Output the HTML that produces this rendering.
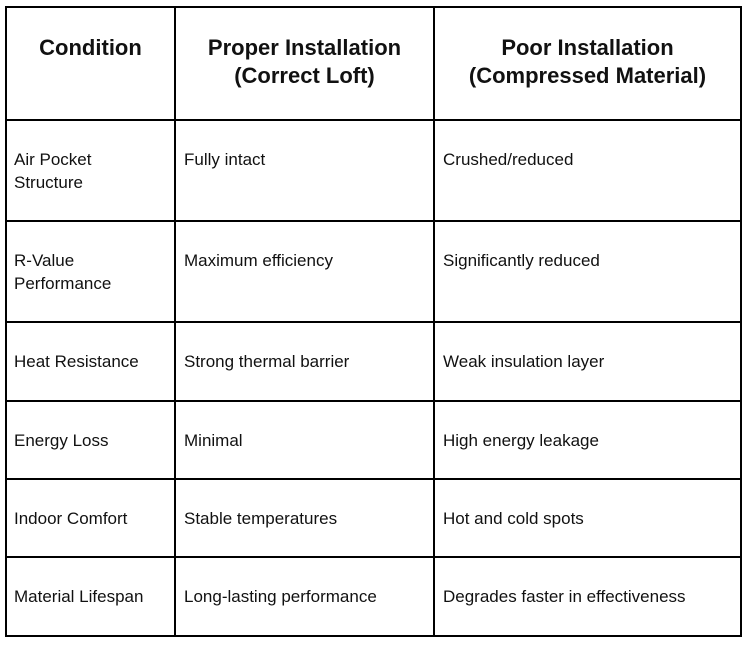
<!DOCTYPE html>
<html><head><meta charset="utf-8"><style>
html,body{margin:0;padding:0;background:#fff;}
body{width:752px;height:647px;position:relative;overflow:hidden;font-family:"Liberation Sans",Arial,sans-serif;color:#111;}
.v{position:absolute;top:6px;height:631px;width:2px;background:#000;}
.h{position:absolute;left:5px;width:737px;height:2px;background:#000;}
.hd{position:absolute;top:34px;font-weight:bold;font-size:22px;line-height:28px;text-align:center;white-space:nowrap;}
.t{position:absolute;font-size:17px;line-height:23px;white-space:nowrap;}
</style></head><body>
<div class="v" style="left:5px"></div>
<div class="v" style="left:174px"></div>
<div class="v" style="left:433px"></div>
<div class="v" style="left:740px"></div>
<div class="h" style="top:6px"></div>
<div class="h" style="top:119px"></div>
<div class="h" style="top:220px"></div>
<div class="h" style="top:321px"></div>
<div class="h" style="top:400px"></div>
<div class="h" style="top:478px"></div>
<div class="h" style="top:556px"></div>
<div class="h" style="top:635px"></div>

<div class="hd" style="left:6px;width:169px">Condition</div>
<div class="hd" style="left:175px;width:259px">Proper Installation<br>(Correct Loft)</div>
<div class="hd" style="left:434px;width:307px">Poor Installation<br>(Compressed Material)</div>

<div class="t" style="left:14px;top:148px">Air Pocket<br>Structure</div>
<div class="t" style="left:184px;top:148px">Fully intact</div>
<div class="t" style="left:443px;top:148px">Crushed/reduced</div>

<div class="t" style="left:14px;top:249px">R-Value<br>Performance</div>
<div class="t" style="left:184px;top:249px">Maximum efficiency</div>
<div class="t" style="left:443px;top:249px">Significantly reduced</div>

<div class="t" style="left:14px;top:350px">Heat Resistance</div>
<div class="t" style="left:184px;top:350px">Strong thermal barrier</div>
<div class="t" style="left:443px;top:350px">Weak insulation layer</div>

<div class="t" style="left:14px;top:429px">Energy Loss</div>
<div class="t" style="left:184px;top:429px">Minimal</div>
<div class="t" style="left:443px;top:429px">High energy leakage</div>

<div class="t" style="left:14px;top:507px">Indoor Comfort</div>
<div class="t" style="left:184px;top:507px">Stable temperatures</div>
<div class="t" style="left:443px;top:507px">Hot and cold spots</div>

<div class="t" style="left:14px;top:585px">Material Lifespan</div>
<div class="t" style="left:184px;top:585px">Long-lasting performance</div>
<div class="t" style="left:443px;top:585px">Degrades faster in effectiveness</div>
</body></html>
